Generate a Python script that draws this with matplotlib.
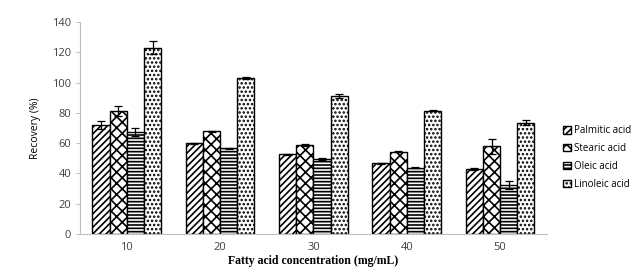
import matplotlib.pyplot as plt
import numpy as np

plt.rcParams["hatch.linewidth"] = 1.2

concentrations = ["10", "20", "30", "40", "50"]
series_names = ["Palmitic acid", "Stearic acid", "Oleic acid", "Linoleic acid"]
palmitic = [72.0, 59.8, 52.5, 46.6, 42.7]
stearic = [81.2, 67.7, 58.6, 54.3, 57.8]
oleic = [67.5, 56.6, 49.5, 43.8, 32.4]
linoleic = [123.0, 103.0, 91.0, 81.3, 73.5]
palmitic_err = [2.4, 0.4, 0.6, 0.3, 0.6]
stearic_err = [3.4, 0.4, 0.8, 0.3, 4.8]
oleic_err = [2.6, 0.4, 0.6, 0.3, 2.6]
linoleic_err = [4.2, 0.4, 1.5, 0.4, 1.8]

values = [palmitic, stearic, oleic, linoleic]
errors = [palmitic_err, stearic_err, oleic_err, linoleic_err]
hatches = ["/////", "xxx", "-----", "...."]

fig = plt.figure(figsize=(6.41, 2.74), dpi=100)
ax = fig.add_axes([0.125, 0.146, 0.728, 0.774])

x = np.arange(len(concentrations))
w = 0.184
for i, (vals, errs, h, name) in enumerate(zip(values, errors, hatches, series_names)):
    ax.bar(x + (i - 1.5) * w, vals, w, yerr=errs, capsize=3,
           color="white", edgecolor="black", hatch=h, linewidth=1.0,
           error_kw=dict(elinewidth=0.9, capthick=0.9, ecolor="black"), label=name)

ax.set_xlim(-0.5, 4.5)
ax.set_ylim(0, 140)
ax.set_yticks(np.arange(0, 141, 20))
ax.set_xticks(x)
ax.set_xticklabels(concentrations)
for s in ["top", "right"]:
    ax.spines[s].set_visible(False)
for s in ["left", "bottom"]:
    ax.spines[s].set_color("#bfbfbf")
ax.tick_params(axis="y", length=3, color="#bfbfbf", labelsize=8, labelcolor="#404040")
ax.tick_params(axis="x", length=0, labelsize=8, labelcolor="#404040", pad=6)
for lab in ax.get_xticklabels() + ax.get_yticklabels():
    lab.set_family("Open Sans")

ax.set_ylabel("Recovery (%)", fontsize=7.5, family="Open Sans", labelpad=8)
ax.set_xlabel("Fatty acid concentration (mg/mL)", fontsize=8.5,
              family="Liberation Serif", fontweight="bold", labelpad=1)

fig.legend(loc="upper left", bbox_to_anchor=(0.865, 0.575), frameon=False,
           handlelength=0.8, handleheight=0.8, handletextpad=0.3,
           labelspacing=0.7, prop={"family": "Open Sans", "size": 7})

fig.savefig("out.png", dpi=100)
